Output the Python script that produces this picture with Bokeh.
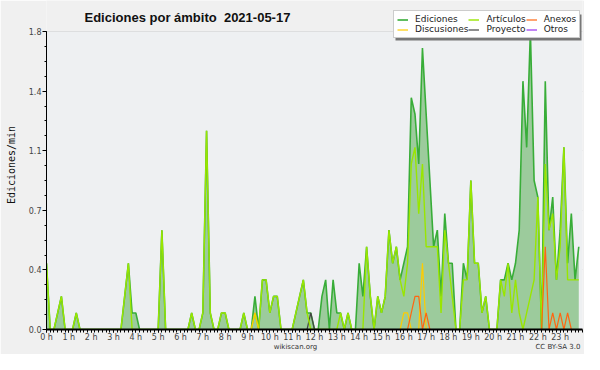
from bokeh.plotting import figure
from bokeh.models import (Range1d, FixedTicker, Legend, LegendItem, Label,
                          BoxAnnotation, ColumnDataSource, LinearAxis)
from bokeh.embed import file_html
from bokeh.resources import INLINE

# 10-minute bins over the day (minutes since 00:00)
minutes = list(range(0, 1440, 10))

# edits per minute (one row = 2 hours)
ediciones = [
    0.4, 0, 0, 0.1, 0.2, 0, 0, 0, 0.1, 0, 0, 0,
    0, 0, 0, 0, 0, 0, 0, 0, 0, 0.2, 0.4, 0.1,
    0.1, 0, 0, 0, 0, 0, 0, 0.6, 0, 0, 0, 0,
    0, 0, 0, 0.1, 0, 0, 0.1, 1.2, 0.1, 0, 0, 0.1,
    0.1, 0, 0, 0, 0, 0.1, 0, 0, 0.2, 0, 0.3, 0.3,
    0.1, 0.2, 0.2, 0, 0, 0, 0, 0.1, 0.2, 0.3, 0.1, 0.1,
    0, 0, 0.2, 0.3, 0, 0.3, 0.1, 0.1, 0, 0.1, 0, 0,
    0.4, 0.2, 0.5, 0.2, 0, 0.2, 0.1, 0.2, 0.6, 0.4, 0.5, 0.3,
    0.4, 0.5, 1.4, 1.3, 1.0, 1.7, 1.3, 0.9, 0.5, 0.6, 0.2, 0.7,
    0.4, 0.4, 0, 0, 0.4, 0.3, 0.9, 0.4, 0.4, 0.1, 0.2, 0,
    0, 0, 0.3, 0.3, 0.4, 0.3, 0.4, 0.6, 1.5, 1.1, 1.8, 0.9,
    0.8, 0, 1.5, 0.6, 0.8, 0.3, 0.6, 1.1, 0.4, 0.7, 0.3, 0.5,
]
articulos = [
    0.4, 0, 0, 0.1, 0.2, 0, 0, 0, 0.1, 0, 0, 0,
    0, 0, 0, 0, 0, 0, 0, 0, 0, 0.2, 0.4, 0,
    0, 0, 0, 0, 0, 0, 0, 0.6, 0, 0, 0, 0,
    0, 0, 0, 0.1, 0, 0, 0.1, 1.2, 0.1, 0, 0, 0.1,
    0.1, 0, 0, 0, 0, 0.1, 0, 0, 0.1, 0, 0.3, 0.3,
    0.1, 0.2, 0.2, 0, 0, 0, 0, 0.1, 0.2, 0.3, 0.1, 0,
    0, 0, 0, 0, 0, 0, 0, 0.1, 0, 0.1, 0, 0,
    0, 0, 0.5, 0.2, 0, 0.2, 0.1, 0.2, 0.6, 0.4, 0.5, 0.3,
    0.2, 0.4, 1.0, 1.1, 0.7, 1.0, 0.5, 0.5, 0.5, 0.5, 0.1, 0.6,
    0.4, 0.2, 0, 0, 0.3, 0.3, 0.9, 0.4, 0.4, 0.1, 0.2, 0,
    0, 0, 0.3, 0.2, 0.4, 0.1, 0.3, 0.1, 0, 0.1, 0.2, 0.3,
    0.8, 0, 1.0, 0.6, 0.7, 0.3, 0.5, 1.1, 0.3, 0.3, 0.3, 0.3,
]
discusiones = [
    0, 0, 0, 0, 0, 0, 0, 0, 0, 0, 0, 0,
    0, 0, 0, 0, 0, 0, 0, 0, 0, 0, 0, 0,
    0, 0, 0, 0, 0, 0, 0, 0, 0, 0, 0, 0,
    0, 0, 0, 0, 0, 0, 0, 0, 0, 0, 0, 0,
    0, 0, 0, 0, 0, 0, 0, 0, 0.1, 0, 0, 0,
    0, 0, 0, 0, 0, 0, 0, 0, 0, 0, 0, 0,
    0, 0, 0, 0, 0, 0, 0, 0, 0, 0, 0, 0,
    0, 0, 0, 0, 0, 0, 0, 0, 0, 0, 0, 0,
    0.1, 0.1, 0, 0, 0, 0.4, 0, 0, 0, 0, 0, 0,
    0, 0, 0, 0, 0, 0, 0, 0, 0, 0, 0, 0,
    0, 0, 0, 0, 0, 0, 0, 0, 0, 0, 0, 0,
    0, 0, 0, 0, 0, 0, 0, 0, 0, 0, 0, 0,
]
anexos = [
    0, 0, 0, 0, 0, 0, 0, 0, 0, 0, 0, 0,
    0, 0, 0, 0, 0, 0, 0, 0, 0, 0, 0, 0,
    0, 0, 0, 0, 0, 0, 0, 0, 0, 0, 0, 0,
    0, 0, 0, 0, 0, 0, 0, 0, 0, 0, 0, 0,
    0, 0, 0, 0, 0, 0, 0, 0, 0, 0, 0, 0,
    0, 0, 0, 0, 0, 0, 0, 0, 0, 0, 0, 0,
    0, 0, 0, 0, 0, 0, 0, 0, 0, 0, 0, 0,
    0, 0, 0, 0, 0, 0, 0, 0, 0, 0, 0, 0,
    0, 0, 0.1, 0.2, 0.2, 0, 0.1, 0, 0, 0, 0, 0,
    0, 0, 0, 0, 0, 0, 0, 0, 0, 0, 0, 0,
    0, 0, 0, 0, 0, 0, 0, 0, 0, 0, 0, 0,
    0, 0, 0.5, 0, 0.1, 0, 0.1, 0, 0.1, 0, 0, 0,
]
proyecto = [
    0, 0, 0, 0, 0, 0, 0, 0, 0, 0, 0, 0,
    0, 0, 0, 0, 0, 0, 0, 0, 0, 0, 0, 0,
    0, 0, 0, 0, 0, 0, 0, 0, 0, 0, 0, 0,
    0, 0, 0, 0, 0, 0, 0, 0, 0, 0, 0, 0,
    0, 0, 0, 0, 0, 0, 0, 0, 0, 0, 0, 0,
    0, 0, 0, 0, 0, 0, 0, 0, 0, 0, 0, 0.1,
    0, 0, 0, 0, 0, 0, 0, 0, 0, 0, 0, 0,
    0, 0, 0, 0, 0, 0, 0, 0, 0, 0, 0, 0,
    0, 0, 0, 0, 0, 0, 0, 0, 0, 0, 0, 0,
    0, 0, 0, 0, 0, 0, 0, 0, 0, 0, 0, 0,
    0, 0, 0, 0, 0, 0, 0, 0, 0, 0, 0, 0,
    0, 0, 0, 0, 0, 0, 0, 0, 0, 0, 0, 0,
]
otros = [0] * 144

hour_ticks = list(range(24))
hour_labels = {h: f"{h} h" for h in hour_ticks}
y_ticks = [0, 0.36, 0.72, 1.08, 1.44, 1.8]
y_labels = {0: "0.0", 0.36: "0.4", 0.72: "0.7", 1.08: "1.1", 1.44: "1.4", 1.8: "1.8"}
y_max = 1.8
footer_ticks = [11.15, 22.9]
footer_labels = {11.15: "wikiscan.org", 22.9: "CC BY-SA 3.0"}

hours = [m / 60 for m in minutes]
src = ColumnDataSource(dict(x=hours, ed=ediciones, art=articulos, disc=discusiones,
                            anx=anexos, proy=proyecto, otr=otros))

W, H = 584, 354
BOTTOM = 25
LEFT, RIGHT = 46, 2
frame_h = H - BOTTOM
top_pad = 31  # pixels between frame top and the 1.8 line
y_top = y_max * frame_h / (frame_h - top_pad)

p = figure(width=W, height=H, output_backend="svg", toolbar_location=None,
           title=None, x_range=Range1d(0, 24), y_range=Range1d(0, y_top),
           min_border_left=LEFT, min_border_right=RIGHT, min_border_top=0,
           min_border_bottom=BOTTOM)
p.background_fill_color = "#f0f0f0"
p.border_fill_color = "#f0f0f0"
p.outline_line_color = None

# plot area background
p.add_layout(BoxAnnotation(left=0, right=24, bottom=0, top=y_max,
                           fill_color="#eef0f2", fill_alpha=1, line_color=None,
                           level="underlay"))

# axes
p.xaxis.ticker = FixedTicker(ticks=hour_ticks, minor_ticks=[m / 60 for m in minutes] + [24])
p.xaxis.major_label_overrides = hour_labels
p.yaxis.ticker = FixedTicker(ticks=y_ticks,
                             minor_ticks=[i * 0.09 for i in range(21)])
p.yaxis.major_label_overrides = y_labels
p.yaxis.bounds = (0, y_max)
for ax in (p.xaxis[0], p.yaxis[0]):
    ax.axis_line_color = "black"
    ax.major_tick_line_color = "black"
    ax.minor_tick_line_color = "black"
    ax.major_tick_in = 0
    ax.minor_tick_in = 0
    ax.major_label_text_font = "DejaVu Sans"
    ax.major_label_text_font_size = "8px"
    ax.major_label_text_color = "#444444"
    ax.major_label_standoff = 1
p.xaxis.axis_line_width = 2
p.xaxis.major_label_standoff = 0
p.xaxis.major_tick_out = 3
p.xaxis.minor_tick_out = 3
p.yaxis.major_tick_out = 4
p.yaxis.minor_tick_out = 2
p.yaxis.axis_label = "Ediciones/min"
p.yaxis.axis_label_text_font = "DejaVu Sans Mono"
p.yaxis.axis_label_text_font_size = "10px"
p.yaxis.axis_label_text_font_style = "normal"
p.yaxis.axis_label_text_color = "#111111"
p.yaxis.axis_label_standoff = 9

# footer texts on an extra, line-less axis
footer = LinearAxis(ticker=FixedTicker(ticks=footer_ticks),
                    major_label_overrides=footer_labels,
                    axis_line_color=None, major_tick_line_color=None,
                    minor_tick_line_color=None, major_tick_out=0, major_tick_in=0,
                    major_label_standoff=-2, major_label_text_font="DejaVu Sans",
                    major_label_text_font_size="7px",
                    major_label_text_color="#333333")
p.add_layout(footer, "below")

p.xgrid.visible = False
p.ygrid.ticker = FixedTicker(ticks=y_ticks)
p.ygrid.grid_line_color = "#cccccc"

# data
p.varea(x="x", y1=0, y2="ed", source=src, fill_color="#9ccb9c")
r_ed = p.line("x", "ed", source=src, line_color="#38ad38", line_width=1.6)
r_otr = p.line("x", "otr", source=src, line_color="#9933ee", line_width=1.2)
r_proy = p.line("x", "proy", source=src, line_color="#444444", line_width=1.2)
r_art = p.line("x", "art", source=src, line_color="#99e600", line_width=1.4)
r_disc = p.line("x", "disc", source=src, line_color="#ffcc00", line_width=1.2)
r_anx = p.line("x", "anx", source=src, line_color="#ff6611", line_width=1.2)

# legend with shadow
leg_x, leg_y = 347, frame_h - 38
leg_w, leg_h = 186, 26
shadow = BoxAnnotation(left=leg_x + 2, right=leg_x + leg_w + 2,
                       bottom=leg_y - 2, top=leg_y + leg_h - 2,
                       left_units="screen", right_units="screen",
                       top_units="screen", bottom_units="screen",
                       fill_color="#777777", fill_alpha=1, line_color=None)
p.add_layout(shadow)
legend = Legend(items=[
    LegendItem(label="Ediciones", renderers=[r_ed]),
    LegendItem(label="Artículos", renderers=[r_art]),
    LegendItem(label="Anexos", renderers=[r_anx]),
    LegendItem(label="Discusiones", renderers=[r_disc]),
    LegendItem(label="Proyecto", renderers=[r_proy]),
    LegendItem(label="Otros", renderers=[r_otr]),
], location=(leg_x, leg_y), orientation="horizontal", ncols=3,
    label_text_font="DejaVu Sans", label_text_font_size="9px",
    label_text_color="#222222", glyph_width=11, glyph_height=9,
    label_height=9, label_standoff=7, padding=3, spacing=0, margin=0,
    border_line_color="#999999", background_fill_color="white",
    background_fill_alpha=1)
p.add_layout(legend)

# title (two spaces before the date, kept with a no-break space)
p.add_layout(Label(x=38, y=frame_h - 17, x_units="screen", y_units="screen",
                   text="Ediciones por ámbito\u00a0 2021-05-17",
                   text_font="Liberation Sans", text_font_style="bold",
                   text_font_size="13px", text_color="#111111",
                   text_baseline="alphabetic"))

open("out.html", "w").write(file_html(p, INLINE))
